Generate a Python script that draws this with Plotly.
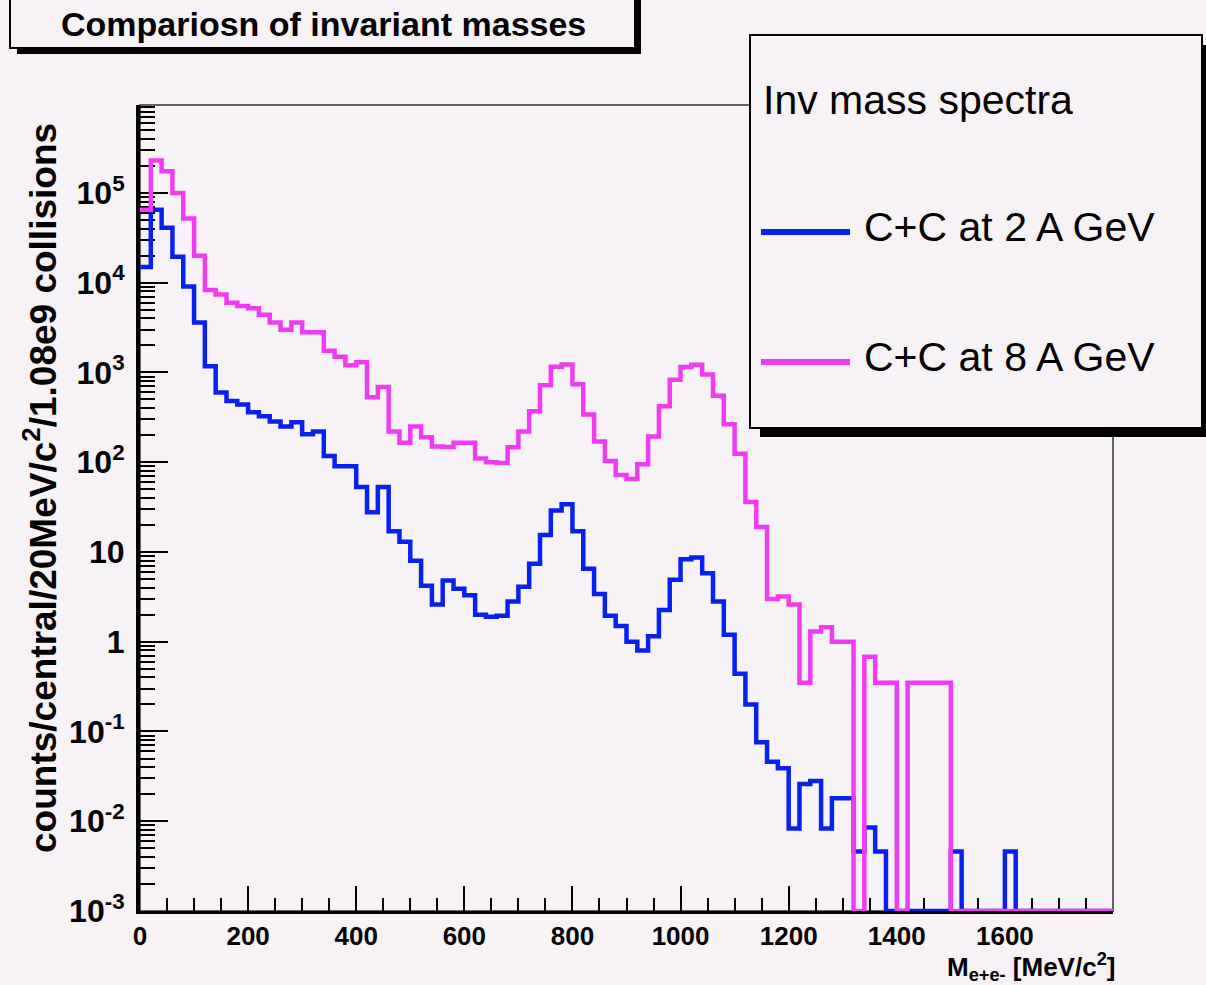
import numpy as np
import plotly.graph_objects as go

# ---------------- data ----------------
mass_edges = list(range(0, 1801, 20))          # MeV/c^2, 20 MeV bins

cc_2agev = [1.5e4, 6.5e4, 4.1e4, 1.95e4, 9.1e3, 3.6e3, 1.17e3, 600, 480, 440,
            360, 325, 285, 250, 278, 205, 220, 117, 90, 90,
            53, 27.7, 53, 17, 13, 8, 4.2, 2.6, 4.8, 3.9,
            3.3, 2.0, 1.9, 1.95, 2.8, 4.1, 7.4, 15.5, 29, 34,
            17, 6.5, 3.4, 1.95, 1.5, 1.0, 0.8, 1.15, 2.25, 4.9,
            8.3, 8.7, 5.8, 2.8, 1.2, 0.44, 0.2, 0.076, 0.046, 0.039,
            0.0083, 0.026, 0.028, 0.0083, 0.018, 0.018, 0.0046, 0.0085, 0.0046, 0,
            0, 0, 0, 0, 0, 0.0046, 0, 0, 0, 0,
            0.0046, 0, 0, 0, 0, 0, 0, 0, 0, 0]

cc_8agev = [6.5e4, 2.3e5, 1.75e5, 1.0e5, 5.2e4, 2.0e4, 8.3e3, 7.4e3, 6.0e3, 5.5e3,
            5.2e3, 4.4e3, 3.6e3, 3.0e3, 3.6e3, 2.8e3, 2.8e3, 1.75e3, 1.5e3, 1.2e3,
            1.3e3, 530, 690, 220, 165, 250, 190, 150, 148, 165,
            165, 110, 100, 98, 147, 220, 370, 720, 1160, 1230,
            740, 340, 170, 103, 72, 65, 95, 194, 420, 830,
            1150, 1220, 950, 550, 265, 124, 36, 19, 3.0, 3.2,
            2.6, 0.35, 1.3, 1.45, 1.0, 1.0, 0, 0.68, 0.35, 0.35,
            0, 0.35, 0.35, 0.35, 0.35, 0, 0, 0, 0, 0,
            0, 0, 0, 0, 0, 0, 0, 0, 0, 0]

series_names = ["C+C at 2 A GeV", "C+C at 8 A GeV"]
series_colors = ["#0a20ec", "#f03cf0"]

x_tick_vals = [0, 200, 400, 600, 800, 1000, 1200, 1400, 1600]
y_tick_vals = [1e-3, 1e-2, 1e-1, 1, 10, 1e2, 1e3, 1e4, 1e5]
y_tick_text = ["10<sup>-3</sup>", "10<sup>-2</sup>", "10<sup>-1</sup>", "1", "10",
               "10<sup>2</sup>", "10<sup>3</sup>", "10<sup>4</sup>", "10<sup>5</sup>"]

# ---------------- layout geometry ----------------
W, H = 1206, 985
L, R, T, B = 140, 1113, 105, 911
BG = "#f6f2f6"
Y_LOG_MIN, Y_LOG_MAX = -3, 5.98
FLOOR = 10 ** Y_LOG_MIN


def px(x):
    return (x - L) / (R - L)


def py(y):
    return (B - y) / (B - T)


fig = go.Figure()

for vals, name, col in zip([cc_2agev, cc_8agev], series_names, series_colors):
    v = np.array(vals, dtype=float)
    v = np.where(v > 0, v, FLOOR)
    yv = np.append(v, v[-1])
    fig.add_trace(go.Scatter(x=mass_edges, y=yv, mode="lines", name=name,
                             line=dict(color=col, width=4.5, shape="hv")))

minor_x = [v for v in range(50, 1800, 50) if v % 200 != 0]
minor_y = [k * 10.0 ** d for d in range(-3, 6) for k in range(2, 10)]

fig.update_layout(
    width=W, height=H,
    margin=dict(l=L, r=W - R, t=T, b=H - B, pad=0),
    paper_bgcolor=BG, plot_bgcolor=BG,
    showlegend=False,
    font=dict(family="Liberation Sans, Arial, sans-serif", color="black"),
    xaxis=dict(range=[0, 1800], tickmode="array", tickvals=x_tick_vals,
               ticks="inside", ticklen=25, tickwidth=2, tickcolor="black",
               showline=True, linewidth=3, linecolor="black",
               showgrid=False, zeroline=False, layer="below traces",
               ticklabelstandoff=0,
               tickfont=dict(family="Liberation Sans, Arial",
                             size=26, weight="bold", color="black"),
               minor=dict(tickmode="array", tickvals=minor_x, ticks="inside",
                          ticklen=13, tickwidth=2, tickcolor="black", showgrid=False)),
    yaxis=dict(type="log", range=[Y_LOG_MIN, Y_LOG_MAX], tickmode="array",
               tickvals=y_tick_vals, ticktext=y_tick_text,
               ticks="inside", ticklen=28, tickwidth=2, tickcolor="black",
               showline=True, linewidth=4, linecolor="black",
               showgrid=False, zeroline=False, layer="below traces",
               ticklabelstandoff=5,
               tickfont=dict(family="Liberation Sans, Arial", size=32,
                             weight="bold", color="black"),
               minor=dict(tickmode="array", tickvals=minor_y, ticks="inside",
                          ticklen=15, tickwidth=2, tickcolor="black", showgrid=False)),
)

shapes = []
# thin frame (top / right)
shapes.append(dict(type="rect", xref="paper", yref="paper", x0=0, x1=1, y0=0, y1=1,
                   line=dict(color="#333333", width=1.5), fillcolor="rgba(0,0,0,0)",
                   layer="below"))
# title box with shadow
shapes.append(dict(type="rect", xref="paper", yref="paper",
                   x0=px(17), x1=px(641), y0=py(54), y1=py(-10),
                   line=dict(width=0), fillcolor="black", layer="above"))
shapes.append(dict(type="rect", xref="paper", yref="paper",
                   x0=px(10), x1=px(635), y0=py(48), y1=py(-10),
                   line=dict(color="black", width=2), fillcolor=BG, layer="above"))
# legend box with shadow
shapes.append(dict(type="rect", xref="paper", yref="paper",
                   x0=px(760), x1=px(1212), y0=py(437), y1=py(45),
                   line=dict(width=0), fillcolor="black", layer="above"))
shapes.append(dict(type="rect", xref="paper", yref="paper",
                   x0=px(750), x1=px(1202), y0=py(428), y1=py(35),
                   line=dict(color="black", width=2), fillcolor=BG, layer="above"))
# legend samples
for yy, col in zip([232, 362], series_colors):
    shapes.append(dict(type="line", xref="paper", yref="paper",
                       x0=px(761), x1=px(850), y0=py(yy), y1=py(yy),
                       line=dict(color=col, width=6), layer="above"))
fig.update_layout(shapes=shapes)

ann = []
ann.append(dict(text="<b>Compariosn of invariant masses</b>", xref="paper", yref="paper",
                x=px(323), y=py(24), xanchor="center", yanchor="middle", showarrow=False,
                font=dict(size=34, color="black")))
ann.append(dict(text="Inv mass spectra", xref="paper", yref="paper",
                x=px(761), y=py(100), xanchor="left", yanchor="middle", showarrow=False,
                font=dict(size=41, color="black")))
for yy, name in zip([227, 357], series_names):
    ann.append(dict(text=name, xref="paper", yref="paper",
                    x=px(862), y=py(yy), xanchor="left", yanchor="middle", showarrow=False,
                    font=dict(size=41, color="black")))
ann.append(dict(text="<b>counts/central/20MeV/c<sup>2</sup>/1.08e9 collisions</b>",
                xref="paper", yref="paper", x=px(40), y=py(488), xanchor="center",
                yanchor="middle", textangle=-90, showarrow=False,
                font=dict(size=37, color="black")))
ann.append(dict(text="<b>M<sub>e+e-</sub> [MeV/c<sup>2</sup>]</b>",
                xref="paper", yref="paper", x=px(1117), y=py(967), xanchor="right",
                yanchor="middle", showarrow=False,
                font=dict(family="Liberation Sans, Arial", size=26, color="black")))
fig.update_layout(annotations=ann)

fig.write_html("out.html")
